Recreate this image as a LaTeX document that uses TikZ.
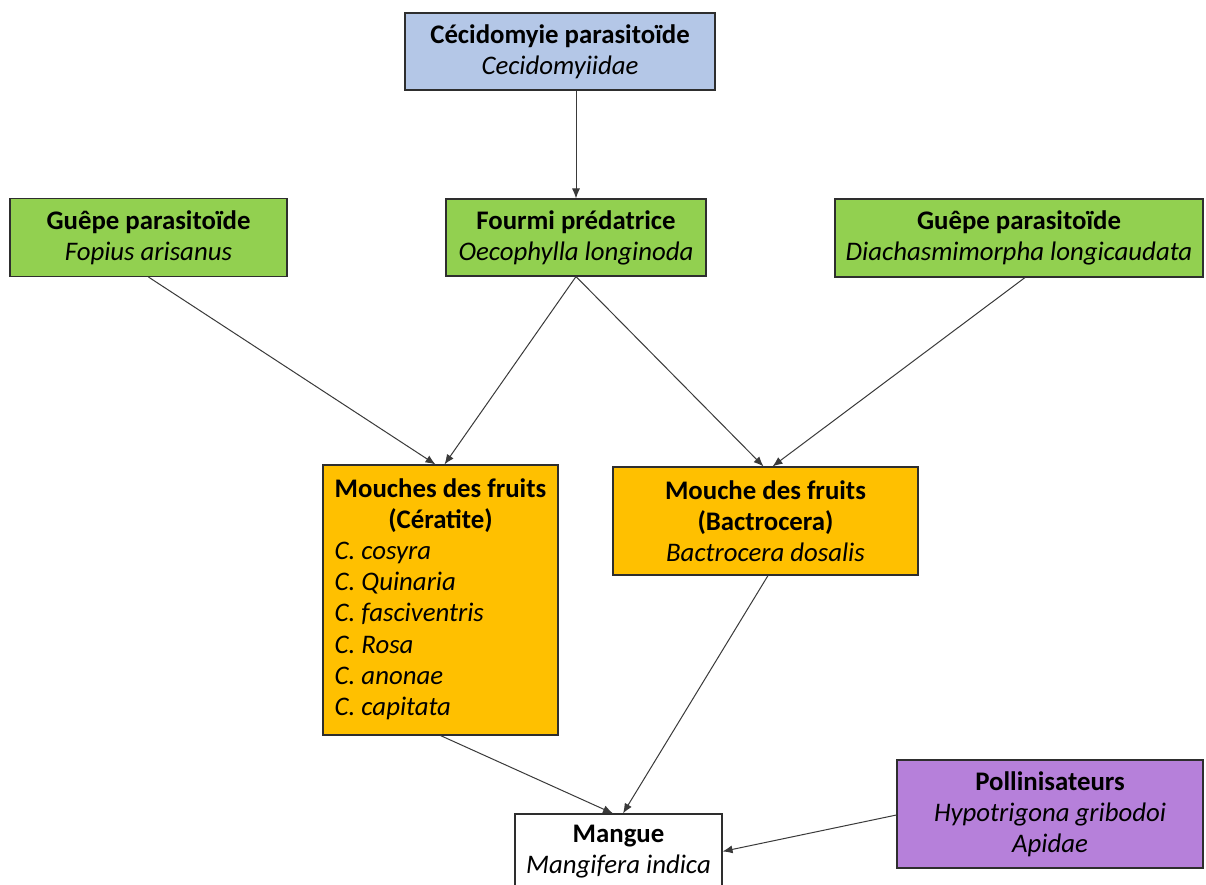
\documentclass[tikz,border=0pt]{standalone}
\usepackage{fontspec}
\setmainfont{Carlito}
\usetikzlibrary{arrows.meta,calc}
\definecolor{boxblue}{HTML}{B4C7E7}
\definecolor{boxgreen}{HTML}{92D050}
\definecolor{boxorange}{HTML}{FFC000}
\definecolor{boxpurple}{HTML}{B680DA}
\definecolor{linegray}{HTML}{3A3A3A}
\definecolor{edgegray}{HTML}{2E2E2E}

\begin{document}
\begin{tikzpicture}[x=1pt,y=-1pt,
  box/.style={draw=edgegray, line width=1.1pt, inner sep=0pt, align=center,
              font=\fontsize{26.8}{31.2}\selectfont},
  link/.style={draw=linegray, line width=1pt, -{Latex[length=10pt,width=8pt]}}]
\clip (0,0) rectangle (1206,885);
\fill[white] (0,0) rectangle (1206,885);

% top level
\node[box, fill=boxblue, minimum width=310pt, minimum height=77pt] (cecid) at (560,51.5)
  {\textbf{Cécidomyie parasitoïde}\\\textit{Cecidomyiidae}};

% natural enemies
\node[box, fill=boxgreen, minimum width=277pt, minimum height=78pt] (fopius) at (148.5,237.5)
  {\textbf{Guêpe parasitoïde}\\\textit{Fopius arisanus}};
\node[box, fill=boxgreen, minimum width=260pt, minimum height=77pt] (fourmi) at (576,237.5)
  {\textbf{Fourmi prédatrice}\\\textit{Oecophylla longinoda}};
\node[box, fill=boxgreen, minimum width=368pt, minimum height=78pt] (diacha) at (1019,238)
  {\textbf{Guêpe parasitoïde}\\\textit{Diachasmimorpha longicaudata}};

% fruit flies
\node[box, fill=boxorange, minimum width=235pt, minimum height=270pt] (ceratite) at (440.5,600)
  {\begin{tabular}{@{}l@{}}
    \multicolumn{1}{@{}c@{}}{\textbf{Mouches des fruits}}\\
    \multicolumn{1}{@{}c@{}}{\textbf{(Cératite)}}\\
    \textit{C. cosyra}\\
    \textit{C. Quinaria}\\
    \textit{C. fasciventris}\\
    \textit{C. Rosa}\\
    \textit{C. anonae}\\
    \textit{C. capitata}
  \end{tabular}};
\node[box, fill=boxorange, minimum width=305pt, minimum height=108pt] (bactro) at (765.5,521)
  {\textbf{Mouche des fruits}\\\textbf{(Bactrocera)}\\\textit{Bactrocera dosalis}};

% host plant and pollinators
\node[box, fill=white, minimum width=207pt, minimum height=75pt] (mangue) at (618.5,851.5)
  {\textbf{Mangue}\\\textit{Mangifera indica}};
\node[box, fill=boxpurple, minimum width=306pt, minimum height=108pt] (pollin) at (1050,814)
  {\textbf{Pollinisateurs}\\\textit{Hypotrigona gribodoi}\\\textit{Apidae}};

% interactions
\draw[link] (fourmi.north |- cecid.south) -- (fourmi.north);
\draw[link] (fopius.south) -- ($(ceratite.north)+(-5,0)$);
\draw[link] (fourmi.south) -- ($(ceratite.north)+(4,0)$);
\draw[link] (fourmi.south) -- ($(bactro.north)+(-2,0)$);
\draw[link] ($(diacha.south)+(6,0)$) -- ($(bactro.north)+(7,0)$);
\draw[link] (ceratite.south) -- ($(mangue.north)+(-5.5,0)$);
\draw[link] ($(bactro.south)+(2.5,0)$) -- ($(mangue.north)+(4.5,0)$);
\draw[link] ($(pollin.west)+(0,1)$) -- ($(mangue.north east)+(0,38)$);
\end{tikzpicture}
\end{document}
